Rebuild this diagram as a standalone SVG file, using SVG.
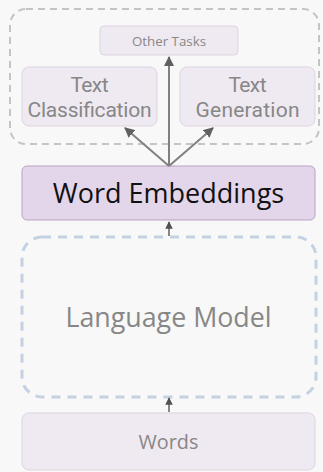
<svg xmlns="http://www.w3.org/2000/svg" width="323" height="472" viewBox="0 0 323 472">
  <style>
    .box { fill: #efe9f1; stroke: #ddd3e0; stroke-width: 1; }
    .emb { fill: #e4d6ea; stroke: #b9a2c3; stroke-width: 1; }
    .lbl { font-family: "Open Sans", "Noto Sans", sans-serif; fill: #878787; text-anchor: middle; }
    .lbl2 { font-family: Roboto, "Open Sans", sans-serif; fill: #878787; text-anchor: middle; font-size: 21px; }
    .conn { stroke: #808080; stroke-width: 2; fill: none; marker-end: url(#head); }
    .conn-sm { stroke: #606060; stroke-width: 1.5; fill: none; marker-end: url(#head2); }
  </style>
  <defs>
    <marker id="head" viewBox="0 0 10 10" refX="9" refY="5" markerWidth="5" markerHeight="5" orient="auto" markerUnits="strokeWidth">
      <path d="M0,0 L10,5 L0,10 z" fill="#606060"/>
    </marker>
    <marker id="head2" viewBox="0 0 10 10" refX="9" refY="5" markerWidth="5" markerHeight="5" orient="auto" markerUnits="strokeWidth">
      <path d="M0,0 L10,5 L0,10 z" fill="#505050"/>
    </marker>
  </defs>
  <rect width="323" height="472" fill="#f8f8f8"/>

  <!-- downstream task group -->
  <g id="tasks-group">
    <rect x="10" y="9" width="309" height="135" rx="16" fill="none" stroke="#c4c4c4" stroke-width="2" stroke-dasharray="7,5"/>
  </g>
  <g id="other-tasks">
    <rect class="box" x="100" y="26" width="138" height="29" rx="4"/>
    <text class="lbl" x="169" y="46" font-size="13.3">Other Tasks</text>
  </g>
  <g id="text-classification">
    <rect class="box" x="22" y="67" width="135" height="59" rx="7"/>
    <text class="lbl2"><tspan x="89.5" y="91.5" textLength="38">Text</tspan><tspan x="89.5" y="116.5" textLength="124">Classification</tspan></text>
  </g>
  <g id="text-generation">
    <rect class="box" x="180" y="67" width="135" height="59" rx="7"/>
    <text class="lbl2"><tspan x="247.5" y="91.5" textLength="38">Text</tspan><tspan x="247.5" y="116.5" textLength="104">Generation</tspan></text>
  </g>

  <g id="word-embeddings">
    <rect class="emb" x="22" y="166" width="293" height="54" rx="5"/>
    <text x="168.5" y="203" font-family="'Open Sans', 'Noto Sans', sans-serif" font-size="27" fill="#111111" text-anchor="middle">Word Embeddings</text>
  </g>

  <g id="language-model">
    <rect x="22" y="237" width="294" height="160" rx="20" fill="none" stroke="#c3d1e2" stroke-width="3" stroke-dasharray="9,7"/>
    <text class="lbl" x="168.5" y="327" font-size="26.8">Language Model</text>
  </g>

  <g id="words">
    <rect class="box" x="22" y="413" width="293" height="57" rx="7"/>
    <text class="lbl" x="168.5" y="449" font-size="19.8">Words</text>
  </g>

  <g id="connectors">
    <line class="conn" x1="169" y1="166" x2="169" y2="57"/>
    <line class="conn" x1="169" y1="166" x2="125" y2="128"/>
    <line class="conn" x1="169" y1="166" x2="213" y2="128"/>
    <line class="conn-sm" x1="169" y1="236" x2="169" y2="222"/>
    <line class="conn-sm" x1="169" y1="412" x2="169" y2="398"/>
  </g>
</svg>
